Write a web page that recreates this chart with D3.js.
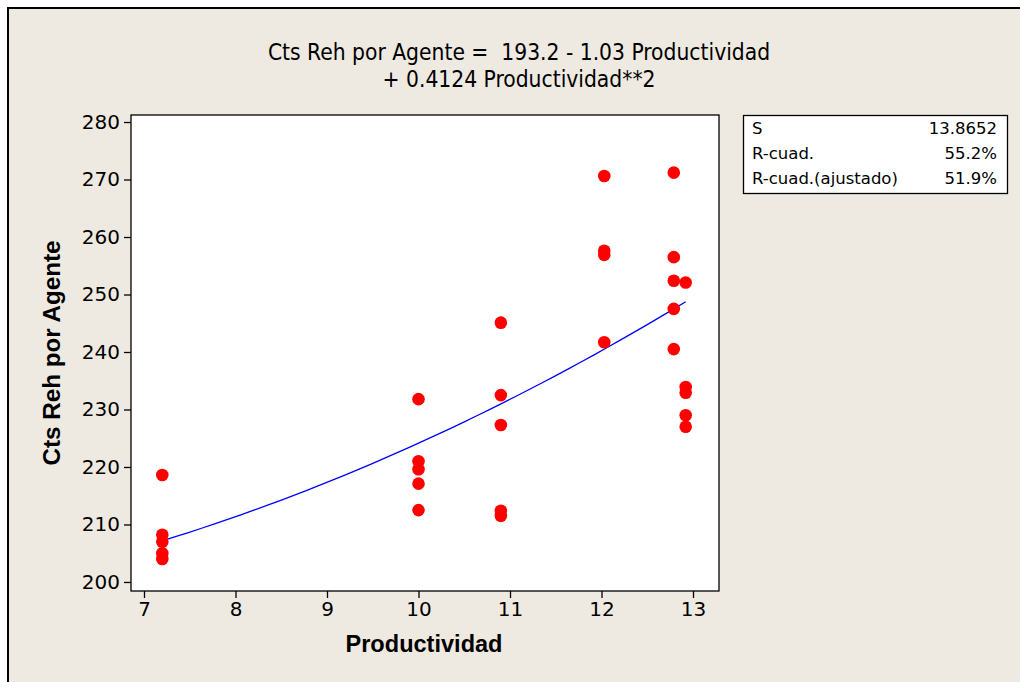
<!DOCTYPE html>
<html><head><meta charset="utf-8">
<script src="https://cdn.jsdelivr.net/npm/d3@7"></script>
<style>body{margin:0;background:#fff}svg{display:block}</style>
</head><body>
<svg id="c" width="1020" height="682"></svg>
<script>
const productividad = [7.2,7.2,7.2,7.2,7.2, 10.0,10.0,10.0,10.0,10.0, 10.9,10.9,10.9,10.9,10.9, 12.03,12.03,12.03,12.03, 12.79,12.79,12.79,12.79,12.79, 12.92,12.92,12.92,12.92,12.92];
const ctsReh = [218.6,208.2,207.0,205.0,204.0, 231.8,221.0,219.6,217.1,212.5, 245.1,232.5,227.3,212.4,211.5, 270.6,257.6,256.9,241.7, 271.2,256.5,252.4,247.5,240.5, 252.1,233.9,232.9,229.0,227.0];
const coef = [193.2, -1.03, 0.4124];
const xTicks = [7,8,9,10,11,12,13];
const yTicks = [200,210,220,230,240,250,260,270,280];
const titleLines = ["Cts Reh por Agente =  193.2 - 1.03 Productividad", "+ 0.4124 Productividad**2"];
const statLabels = ["S","R-cuad.","R-cuad.(ajustado)"];
const statValues = ["13.8652","55.2%","51.9%"];

const svg = d3.select("#c");
svg.append("rect").attr("x",0).attr("y",0).attr("width",1020).attr("height",682).attr("fill","#fff");
svg.append("rect").attr("x",8).attr("y",8).attr("width",1030).attr("height",700)
  .attr("fill","#EEEAE1").attr("stroke","#000").attr("stroke-width",2);

const L=131, R=719, T=115, B=591;
const x = d3.scaleLinear().domain([6.858,13.284]).range([L,R]);
const y = d3.scaleLinear().domain([198.43,281.22]).range([B,T]);

svg.append("rect").attr("x",L).attr("y",T).attr("width",R-L).attr("height",B-T)
  .attr("fill","#fff").attr("stroke","#000").attr("stroke-width",1.3);

const fontC = "'DejaVu Sans Condensed','DejaVu Sans',sans-serif";
const font = "'DejaVu Sans',sans-serif";
const xa = svg.append("g").attr("transform",`translate(0,${B})`)
  .call(d3.axisBottom(x).tickValues(xTicks).tickSize(7).tickPadding(4).tickFormat(d3.format("d")));
const ya = svg.append("g").attr("transform",`translate(${L},0)`)
  .call(d3.axisLeft(y).tickValues(yTicks).tickSize(7).tickPadding(4).tickFormat(d3.format("d")));
[xa,ya].forEach(a=>{
  a.select(".domain").remove();
  a.selectAll("line").attr("stroke","#000").attr("stroke-width",1.3);
  a.selectAll("text").attr("font-family",font).attr("font-size",20).attr("fill","#000");
});

// fitted curve
const xMin = d3.min(productividad), xMax = d3.max(productividad);
const fx = d3.range(0,41).map(i=>xMin+(xMax-xMin)*i/40);
const line = d3.line().x(d=>x(d)).y(d=>y(coef[0]+coef[1]*d+coef[2]*d*d));
svg.append("path").datum(fx).attr("d",line).attr("fill","none").attr("stroke","#0000FF").attr("stroke-width",1.3);

svg.append("g").selectAll("circle").data(productividad).join("circle")
  .attr("cx",d=>x(d)).attr("cy",(d,i)=>y(ctsReh[i])).attr("r",6.3).attr("fill","#FF0000");

// title
svg.append("g").selectAll("text").data(titleLines).join("text")
  .attr("x",519).attr("y",(d,i)=>60+i*27).attr("text-anchor","middle")
  .attr("font-family",fontC).attr("font-size",22.6).attr("fill","#000")
  .style("white-space","pre").text(d=>d);

// axis labels
svg.append("text").attr("x",424).attr("y",652).attr("text-anchor","middle")
  .attr("font-family","'Liberation Sans',Arial,sans-serif").attr("font-weight","bold").attr("font-size",23)
  .attr("textLength",157).attr("lengthAdjust","spacingAndGlyphs")
  .text("Productividad");
svg.append("text").attr("transform","translate(60,353) rotate(-90)").attr("text-anchor","middle")
  .attr("font-family","'Liberation Sans',Arial,sans-serif").attr("font-weight","bold").attr("font-size",23)
  .attr("textLength",225).attr("lengthAdjust","spacingAndGlyphs")
  .text("Cts Reh por Agente");

// stats box
svg.append("rect").attr("x",743.5).attr("y",115.5).attr("width",264).attr("height",78)
  .attr("fill","#fff").attr("stroke","#000").attr("stroke-width",1.3);
const sg = svg.append("g");
sg.selectAll("text.l").data(statLabels).join("text").attr("class","l")
  .attr("x",752).attr("y",(d,i)=>134+i*25).attr("font-family",font).attr("font-size",16.5).text(d=>d);
sg.selectAll("text.v").data(statValues).join("text").attr("class","v")
  .attr("x",997).attr("y",(d,i)=>134+i*25).attr("text-anchor","end").attr("font-family",font).attr("font-size",16.5).text(d=>d);
</script>
</body></html>
